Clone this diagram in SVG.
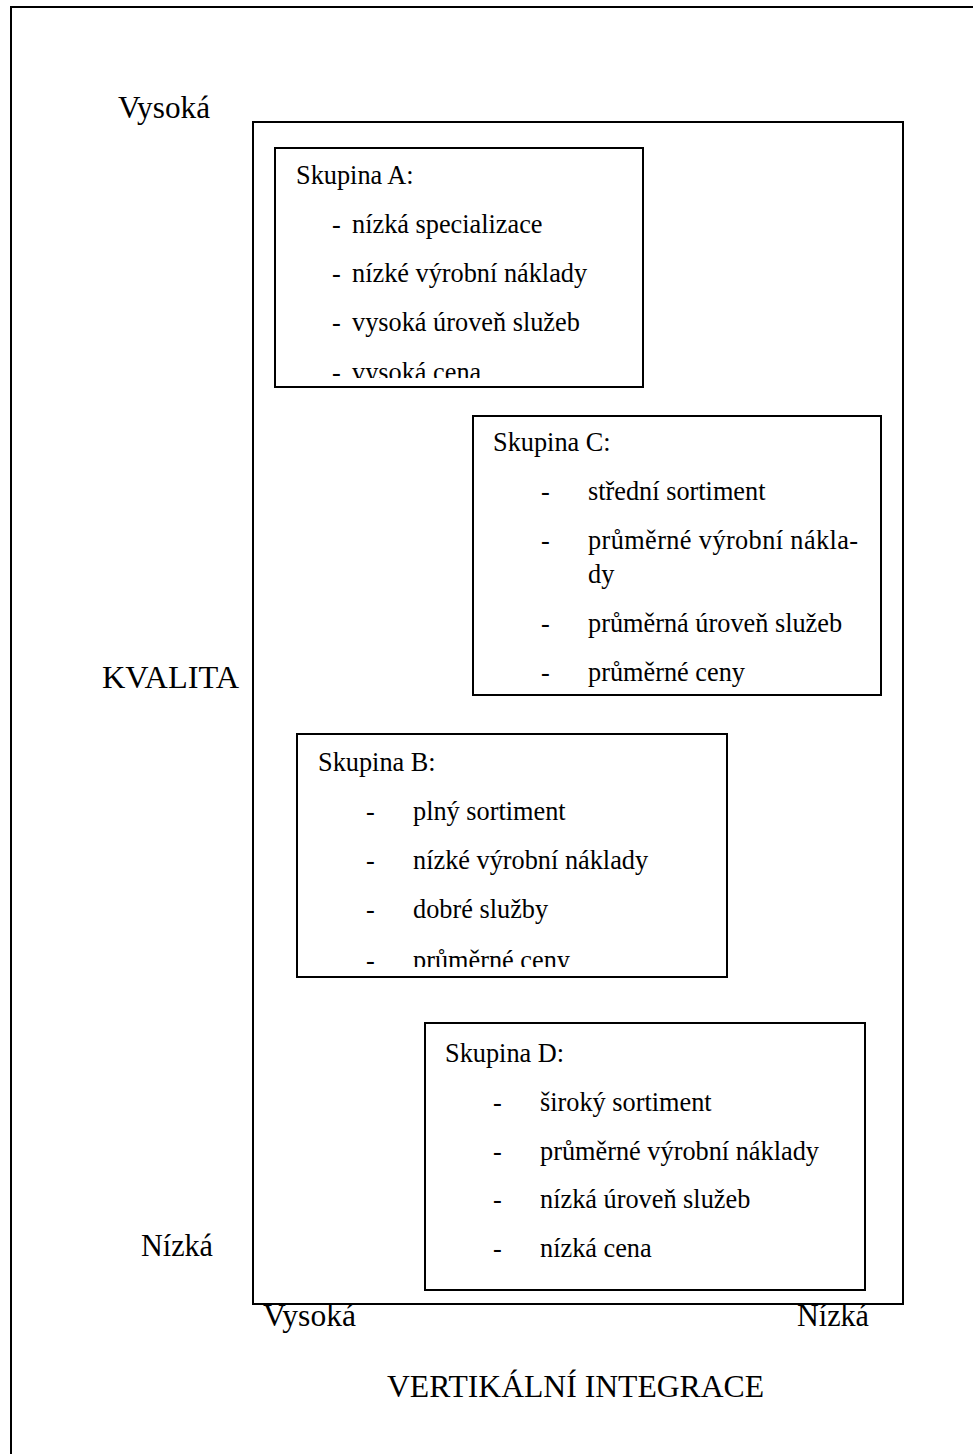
<svg xmlns="http://www.w3.org/2000/svg" width="973" height="1454" viewBox="0 0 973 1454">
<style>
  .box { fill: #fff; stroke: #000; stroke-width: 2; }
  .frame { fill: none; stroke: #000; stroke-width: 2; }
  text { font-family: "Liberation Serif", "Times New Roman", serif; fill: #000; }
  .t { font-size: 26.3px; }
  .ax { font-size: 31px; }
</style>
<defs>
  <clipPath id="clipA"><rect x="276" y="149" width="366" height="229"/></clipPath>
  <clipPath id="clipB"><rect x="298" y="735" width="428" height="232"/></clipPath>
</defs>
<rect x="0" y="0" width="973" height="1454" fill="#fff"/>
<rect class="frame" x="11" y="7" width="1000" height="1500"/>
<g id="frame-inner">
  <rect class="frame" x="253" y="122" width="650" height="1182"/>
</g>
<g id="axis-labels">
  <text class="ax" x="118" y="118" textLength="92" lengthAdjust="spacingAndGlyphs">Vysoká</text>
  <text class="ax" x="102" y="688" textLength="137" lengthAdjust="spacingAndGlyphs">KVALITA</text>
  <text class="ax" x="141" y="1256" textLength="72" lengthAdjust="spacingAndGlyphs">Nízká</text>
  <text class="ax" x="263" y="1326" textLength="93" lengthAdjust="spacingAndGlyphs">Vysoká</text>
  <text class="ax" x="797" y="1326" textLength="72" lengthAdjust="spacingAndGlyphs">Nízká</text>
  <text class="ax" x="387" y="1397" textLength="377" lengthAdjust="spacingAndGlyphs">VERTIKÁLNÍ INTEGRACE</text>
</g>
<g id="skupina-a">
  <rect class="box" x="275" y="148" width="368" height="239"/>
  <g clip-path="url(#clipA)">
    <text class="t" x="296" y="184">Skupina A:</text>
    <text class="t" x="332" y="233">-</text><text class="t" x="352" y="233">nízká specializace</text>
    <text class="t" x="332" y="282">-</text><text class="t" x="352" y="282">nízké výrobní náklady</text>
    <text class="t" x="332" y="331">-</text><text class="t" x="352" y="331">vysoká úroveň služeb</text>
    <text class="t" x="332" y="381">-</text><text class="t" x="352" y="381">vysoká cena</text>
  </g>
</g>
<g id="skupina-c">
  <rect class="box" x="473" y="416" width="408" height="279"/>
  <text class="t" x="493" y="451">Skupina C:</text>
  <text class="t" x="541" y="500">-</text><text class="t" x="588" y="500">střední sortiment</text>
  <text class="t" x="541" y="549">-</text><text class="t" x="588" y="549" textLength="270" lengthAdjust="spacing">průměrné výrobní nákla-</text>
  <text class="t" x="588" y="583">dy</text>
  <text class="t" x="541" y="632">-</text><text class="t" x="588" y="632">průměrná úroveň služeb</text>
  <text class="t" x="541" y="681">-</text><text class="t" x="588" y="681">průměrné ceny</text>
</g>
<g id="skupina-b">
  <rect class="box" x="297" y="734" width="430" height="243"/>
  <g clip-path="url(#clipB)">
    <text class="t" x="318" y="771">Skupina B:</text>
    <text class="t" x="366" y="820">-</text><text class="t" x="413" y="820">plný sortiment</text>
    <text class="t" x="366" y="869">-</text><text class="t" x="413" y="869">nízké výrobní náklady</text>
    <text class="t" x="366" y="918">-</text><text class="t" x="413" y="918">dobré služby</text>
    <text class="t" x="366" y="969">-</text><text class="t" x="413" y="969">průměrné ceny</text>
  </g>
</g>
<g id="skupina-d">
  <rect class="box" x="425" y="1023" width="440" height="267"/>
  <text class="t" x="445" y="1062">Skupina D:</text>
  <text class="t" x="493" y="1111">-</text><text class="t" x="540" y="1111">široký sortiment</text>
  <text class="t" x="493" y="1160">-</text><text class="t" x="540" y="1160">průměrné výrobní náklady</text>
  <text class="t" x="493" y="1208">-</text><text class="t" x="540" y="1208">nízká úroveň služeb</text>
  <text class="t" x="493" y="1257">-</text><text class="t" x="540" y="1257">nízká cena</text>
</g>
<g id="connectors"></g>
</svg>
